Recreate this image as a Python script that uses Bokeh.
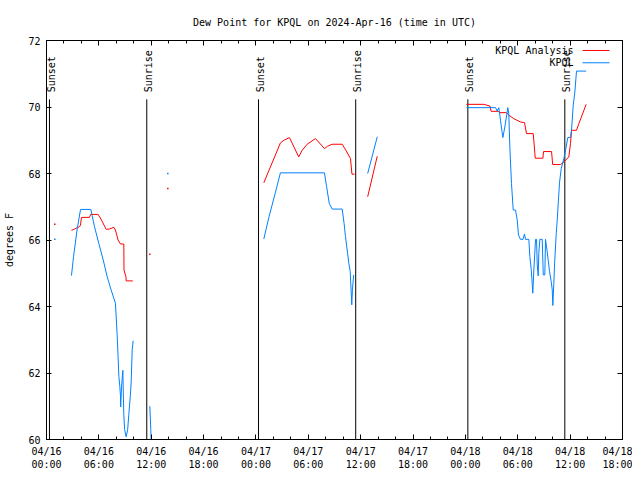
import math
from bokeh.plotting import figure
from bokeh.models import FixedTicker, LinearAxis, Range1d, Label, CustomLabelingPolicy
from bokeh.core.properties import value
from bokeh.embed import file_html
from bokeh.resources import INLINE

FONT = "DejaVu Sans Mono"
NAN = float("nan")

# x values are hours after 2024-04-16 00:00 UTC
tick_hours = [0, 6, 12, 18, 24, 30, 36, 42, 48, 54, 60, 66]
tick_labels = ["04/16\n00:00", "04/16\n06:00", "04/16\n12:00", "04/16\n18:00",
               "04/17\n00:00", "04/17\n06:00", "04/17\n12:00", "04/17\n18:00",
               "04/18\n00:00", "04/18\n06:00", "04/18\n12:00", "04/18\n18:00"]
minor_hours = list(range(0, 67, 2))
y_ticks = [60, 62, 64, 66, 68, 70, 72]

# Sunrise / sunset times (hours)
sun_hours = [0.34, 11.49, 24.29, 35.43, 48.28, 59.39]
sun_names = ["Sunset", "Sunrise", "Sunset", "Sunrise", "Sunset", "Sunrise"]

# KPQL Analysis (red)
ana_h = [2.86, 3.2, 3.78, 3.9, 4.0, 4.93, 5.05, 5.92, 6.3, 6.84, 7.2, 7.72, 7.9, 8.2, 8.48, 8.86,
         8.88, 9.1, 9.13, 9.89, NAN,
         24.9, 25.5, 26.3, 26.8, 27.2, 27.84, 28.9, 29.3, 29.87, 30.82, 31.85, 32.2, 32.73, 33.88,
         34.3, 34.83, 35.0, 35.3, NAN,
         36.8, 37.9, NAN,
         48.1, 50.1, 50.8, 50.95, 51.75, 51.94, 52.7, 53.0, 53.54, 54.3, 54.77, 55.0, 55.77, 55.9,
         56.0, 56.88, 56.95, 57.87, 58.0, 58.9, 59.3, 59.85, 60.04, 60.16, 60.73, 61.0, 61.84]
ana_v = [66.29, 66.33, 66.4, 66.45, 66.68, 66.68, 66.77, 66.77, 66.6, 66.32, 66.33, 66.38, 66.3, 66.0, 65.88, 65.88,
         65.1, 64.9, 64.77, 64.77, NAN,
         67.72, 68.1, 68.6, 68.92, 69.0, 69.08, 68.5, 68.7, 68.88, 69.05, 68.75, 68.82, 68.88, 68.88,
         68.7, 68.45, 67.98, 67.98, NAN,
         67.3, 68.52, NAN,
         70.08, 70.08, 70.03, 69.87, 69.87, 69.83, 69.83, 69.75, 69.65, 69.55, 69.53, 69.2, 69.2, 68.8,
         68.46, 68.46, 68.66, 68.66, 68.27, 68.27, 68.35, 68.5, 68.9, 69.3, 69.3, 69.5, 70.08]
ana_dot_h = [0.95, 11.84, 13.9]
ana_dot_v = [66.47, 65.57, 67.55]

# KPQL observations (blue)
obs_h = [2.86, 3.1, 3.5, 3.9, 5.08, 5.5, 5.99, 6.5, 6.95, 7.4, 7.9, 8.1, 8.2, 8.29, 8.4, 8.48, 8.5,
         8.6, 8.75, 8.8, 8.86, 8.95, 9.13, 9.3, 9.43, 9.6, 9.7, 9.82, 9.93, NAN,
         11.84, 11.95, 12.05, NAN,
         24.9, 25.5, 26.2, 26.8, 31.85, 32.1, 32.4, 32.73, 33.88, 34.1, 34.26, 34.5, 34.64, 34.8,
         34.98, 35.05, 35.2, NAN,
         36.8, 37.9, NAN,
         48.13, 51.45, 51.64, 51.83, 52.02, 52.29, 52.52, 52.86, 52.97, 53.09, 53.28, 53.48, 53.74,
         53.94, 54.08, 54.31, 54.6, 54.77, 54.89, 55.27, 55.38, 55.54, 55.65, 55.72, 55.84, 56.04,
         56.15, 56.23, 56.34, 56.41, 56.53, 56.80, 56.92, 57.10, 57.18, 57.37, 57.64, 57.83, 57.95,
         58.02, 58.13, 58.24, 58.41, 58.52, 58.78, 58.98, 59.28, 59.55, 59.73, 60.04, 60.16, 60.35,
         60.54, 60.73, 61.84]
obs_v = [64.93, 65.5, 66.3, 66.92, 66.92, 66.4, 65.9, 65.4, 64.9, 64.5, 64.1, 63.12, 62.5, 61.9, 61.6, 61.3, 60.98,
         61.6, 62.08, 61.4, 60.75, 60.3, 60.08, 60.3, 60.75, 61.3, 61.7, 62.7, 62.97, NAN,
         61.0, 60.3, 59.5, NAN,
         66.03, 66.7, 67.4, 68.02, 68.02, 67.6, 67.1, 66.93, 66.93, 66.5, 66.1, 65.6, 65.3, 65.05,
         64.05, 64.5, 64.95, NAN,
         68.0, 69.1, NAN,
         69.98, 69.98, 69.88, 69.98, 69.6, 69.08, 69.4, 69.98, 69.8, 68.8, 67.7, 66.9, 66.9,
         66.6, 66.15, 66.02, 66.02, 66.18, 66.02, 66.02, 65.5, 65.12, 64.7, 64.4, 65.1, 66.02,
         66.02, 65.25, 64.92, 65.6, 66.02, 66.02, 64.95, 64.95, 66.02, 65.65, 65.05, 64.75, 64.5,
         64.03, 64.7, 65.4, 66.2, 66.6, 67.72, 68.15, 68.45, 68.8, 69.08, 69.08, 69.3, 70.05,
         70.45, 71.08, 71.08]
obs_dot_h = [0.95, 13.9]
obs_dot_v = [66.02, 68.0]

RED = "#ff0000"
BLUE = "#0080ff"

p = figure(width=632, height=472, x_range=Range1d(0, 66), y_range=Range1d(60, 72),
           output_backend="svg", toolbar_location=None,
           min_border_left=46, min_border_right=10, min_border_top=40, min_border_bottom=32,
           title="Dew Point for KPQL on 2024-Apr-16 (time in UTC)")
p.title.text_font = FONT
p.title.text_font_size = "10px"
p.title.text_font_style = "normal"
p.title.text_color = "black"
p.title.align = "center"
p.title.standoff = 18
p.grid.visible = False
p.outline_line_color = "black"
p.outline_line_alpha = 1.0
p.background_fill_color = "white"
p.border_fill_color = "white"

xax = p.xaxis[0]
xax.ticker = FixedTicker(ticks=tick_hours, minor_ticks=minor_hours)
xax.major_label_overrides = {h: lbl for h, lbl in zip(tick_hours, tick_labels)}
yax = p.yaxis[0]
yax.ticker = FixedTicker(ticks=y_ticks, minor_ticks=[])
yax.axis_label = "degrees F"
for ax in (xax, yax):
    ax.major_label_text_font = FONT
    ax.major_label_text_font_size = "10px"
    ax.major_label_text_color = "black"
    ax.axis_label_text_font = FONT
    ax.axis_label_text_font_size = "10px"
    ax.axis_label_text_font_style = "normal"
    ax.axis_label_text_color = "black"
    ax.major_tick_in = 5
    ax.major_tick_out = 0
    ax.minor_tick_in = 3
    ax.minor_tick_out = 0
    ax.axis_line_color = "black"
    ax.major_tick_line_color = "black"
    ax.minor_tick_line_color = "black"
xax.major_label_standoff = 6
yax.major_label_standoff = 6
yax.axis_label_standoff = 10

hide_all = "for (const i of Array.from(indices)) { indices.unset(i) }\nreturn indices"
top = LinearAxis(ticker=FixedTicker(ticks=tick_hours, minor_ticks=minor_hours),
                 major_label_text_font_size="1px", major_label_standoff=0,
                 major_label_policy=CustomLabelingPolicy(code=hide_all),
                 major_tick_in=5, major_tick_out=0, minor_tick_in=3, minor_tick_out=0)
right = LinearAxis(ticker=FixedTicker(ticks=y_ticks, minor_ticks=[]),
                   major_label_text_font_size="1px", major_label_standoff=0,
                   major_label_policy=CustomLabelingPolicy(code=hide_all),
                   major_tick_in=5, major_tick_out=0, minor_tick_in=0, minor_tick_out=0)
p.add_layout(top, "above")
p.add_layout(right, "right")

# sunrise / sunset markers
p.segment(x0=sun_hours, y0=[60] * len(sun_hours), x1=sun_hours, y1=[70.23] * len(sun_hours),
          line_color="black", line_width=1)
p.text(x=sun_hours, y=[70.44] * len(sun_hours), text=sun_names, angle=math.pi / 2,
       text_align="left", text_baseline="middle", x_offset=2,
       text_font=value(FONT), text_font_size="10px", text_color="black")

# data
p.line(ana_h, ana_v, line_color=RED, line_width=1)
p.line(obs_h, obs_v, line_color=BLUE, line_width=1)
p.scatter(ana_dot_h, ana_dot_v, marker="square", size=1.5, fill_color=RED, line_color=None)
p.scatter(obs_dot_h, obs_dot_v, marker="square", size=1.5, fill_color=BLUE, line_color=None)

# legend (gnuplot style: text then sample line)
legend_items = [("KPQL Analysis", RED, 71.7), ("KPQL", BLUE, 71.33)]
for name, col, yv in legend_items:
    p.add_layout(Label(x=60.39, y=yv, text=name, text_align="right", text_baseline="middle",
                       text_font=FONT, text_font_size="10px", text_color="black"))
    p.segment(x0=[61.42], y0=[yv], x1=[64.51], y1=[yv], line_color=col, line_width=1)

open("out.html", "w").write(file_html(p, INLINE))
